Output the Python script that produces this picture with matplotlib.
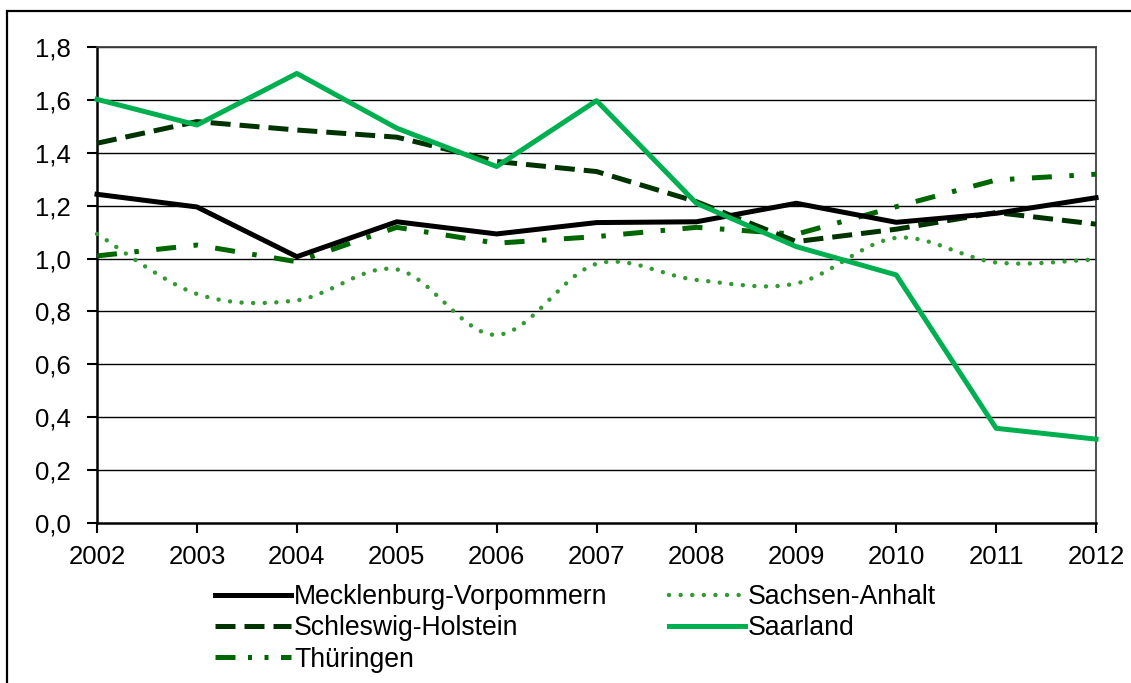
import numpy as np
import matplotlib.pyplot as plt
from matplotlib.path import Path
from matplotlib.patches import PathPatch, Rectangle
from matplotlib.lines import Line2D

plt.rcParams['font.family'] = ['Liberation Sans', 'DejaVu Sans']

# values
years = [2002, 2003, 2004, 2005, 2006, 2007, 2008, 2009, 2010, 2011, 2012]
mecklenburg = [1.243, 1.195, 1.007, 1.139, 1.093, 1.136, 1.139, 1.209, 1.137, 1.171, 1.230]
schleswig = [1.436, 1.518, 1.486, 1.459, 1.367, 1.329, 1.215, 1.064, 1.111, 1.174, 1.130]
thueringen = [1.010, 1.051, 0.988, 1.118, 1.058, 1.083, 1.118, 1.092, 1.196, 1.297, 1.319]
sachsen_anhalt = [1.093, 0.866, 0.842, 0.959, 0.711, 0.980, 0.919, 0.906, 1.078, 0.985, 0.997]
saarland = [1.602, 1.505, 1.700, 1.493, 1.348, 1.597, 1.209, 1.045, 0.938, 0.358, 0.317]

yticks = [0.0, 0.2, 0.4, 0.6, 0.8, 1.0, 1.2, 1.4, 1.6, 1.8]
ytick_labels = ['0,0', '0,2', '0,4', '0,6', '0,8', '1,0', '1,2', '1,4', '1,6', '1,8']

c_black = '#000000'
c_sh = '#003300'
c_th = '#006600'
c_sa = '#339933'
c_saar = '#00b050'
lw = 3.6

fig = plt.figure(figsize=(11.31, 6.83), dpi=100)
ax = fig.add_axes([0.0858, 0.2343, 0.9832 - 0.0858 - 0.0141, 0.9312 - 0.2343])

# outer frame
fig.patches.append(Rectangle((7 / 1131, -0.05), 1.2, 1 - 11 / 683 + 0.05,
                             transform=fig.transFigure, fill=False,
                             edgecolor='black', linewidth=1.6))

ax.set_xlim(2002, 2012)
ax.set_ylim(0, 1.8)
ax.set_yticks(yticks)
ax.set_yticklabels(ytick_labels)
ax.set_xticks(years)
ax.set_xticklabels([str(y) for y in years])
for y in yticks[1:]:
    ax.axhline(y, color='black', linewidth=1.0, zorder=1)

for s in ['left', 'bottom']:
    ax.spines[s].set_linewidth(1.8)
    ax.spines[s].set_color('black')
for s in ['top', 'right']:
    ax.spines[s].set_linewidth(1.3)
    ax.spines[s].set_color('#404040')
ax.tick_params(direction='out', length=7, width=1.5, labelsize=18.5)
ax.tick_params(axis='y', pad=12)
ax.tick_params(axis='x', pad=9)

# smoothed dotted line (Excel style smoothing through the points)
x = np.array(years, dtype=float)
y = np.array(sachsen_anhalt)
verts = [(x[0], y[0])]
codes = [Path.MOVETO]
for i in range(len(x) - 1):
    i0 = max(i - 1, 0)
    i3 = min(i + 2, len(x) - 1)
    c1 = (x[i] + (x[i + 1] - x[i0]) / 6, y[i] + (y[i + 1] - y[i0]) / 6)
    c2 = (x[i + 1] - (x[i3] - x[i]) / 6, y[i + 1] - (y[i3] - y[i]) / 6)
    verts += [c1, c2, (x[i + 1], y[i + 1])]
    codes += [Path.CURVE4, Path.CURVE4, Path.CURVE4]
sa_patch = PathPatch(Path(verts, codes), fill=False, edgecolor=c_sa,
                     linewidth=3.2, linestyle=(0, (0.01, 2.6)), capstyle='round',
                     zorder=3, clip_on=False)
ax.add_patch(sa_patch)

ax.plot(years, thueringen, color=c_th, linewidth=lw, dashes=(4, 3.5, 0.9, 3.5), zorder=4, clip_on=False)
ax.plot(years, schleswig, color=c_sh, linewidth=lw, dashes=(4, 1.8), zorder=5, clip_on=False)
ax.plot(years, mecklenburg, color=c_black, linewidth=lw, zorder=6, clip_on=False)
ax.plot(years, saarland, color=c_saar, linewidth=lw, zorder=7, clip_on=False)

handles = [
    Line2D([], [], color=c_black, linewidth=lw),
    Line2D([], [], color=c_sh, linewidth=lw, dashes=(4, 1.8)),
    Line2D([], [], color=c_th, linewidth=lw, dashes=(4, 2.5, 0.8, 2.5, 0.8, 2.5)),
    Line2D([], [], color=c_sa, linewidth=3.2, linestyle=(0, (0.01, 2.6)), dash_capstyle='round'),
    Line2D([], [], color=c_saar, linewidth=lw),
]
labels = ['Mecklenburg-Vorpommern', 'Schleswig-Holstein', 'Thüringen', 'Sachsen-Anhalt', 'Saarland']
fig.legend(handles, labels, ncol=2, loc='upper left',
           bbox_to_anchor=(215 / 1131, 1 - 584 / 683), frameon=False,
           fontsize=19.2, handlelength=2.85, handletextpad=0.12, columnspacing=2.3,
           labelspacing=0.2, borderpad=0, borderaxespad=0)

plt.savefig('out.png', dpi=100)
